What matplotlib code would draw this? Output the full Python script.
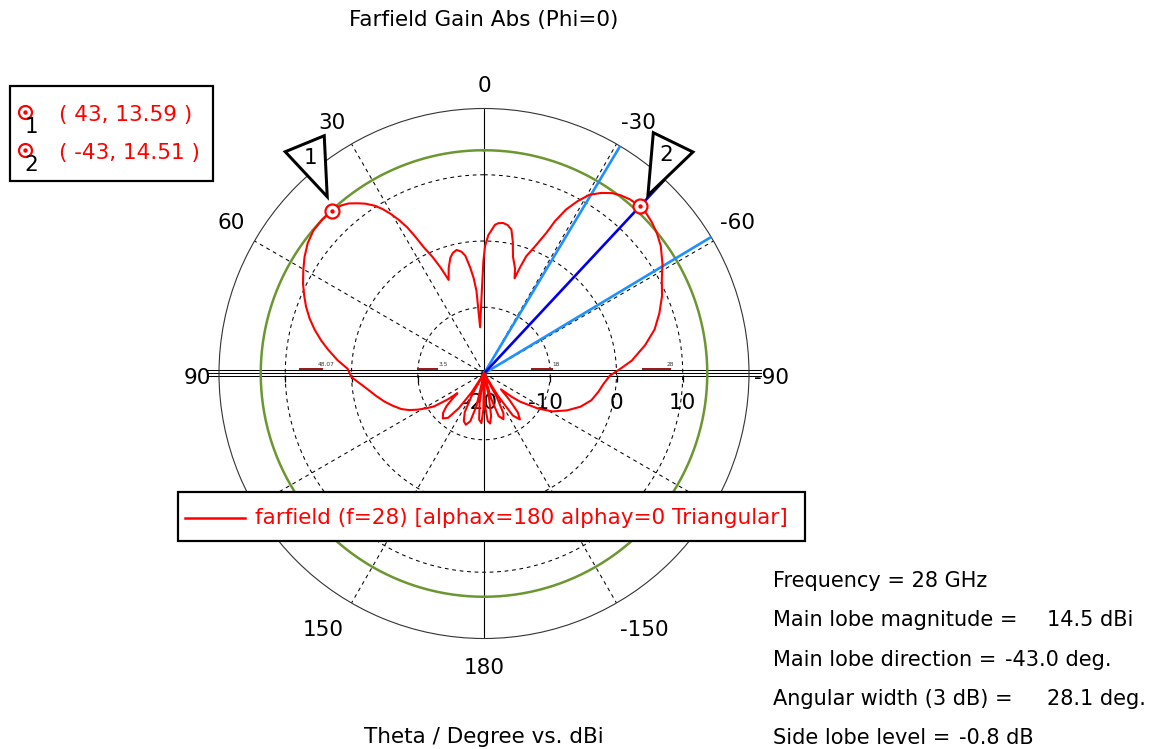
import numpy as np
import matplotlib
matplotlib.use("Agg")
import matplotlib.pyplot as plt
from matplotlib import transforms as mtransforms
from matplotlib.lines import Line2D
from matplotlib.patches import Polygon, Rectangle

plt.rcParams["font.family"] = ["DejaVu Sans"]

# ---------------- data ----------------
theta_deg = [
    -180, -178, -175.5, -173, -170.5, -168, -166,
    -164, -161, -157, -154, -151.5, -150,
    -148, -145.5, -142, -139, -136, -133,
    -130, -128, -123, -119, -114, -109, -104, -99, -95, -91,
    -88, -85, -80, -75.5, -71, -66.5, -62, -58.5, -54.2, -51, -48, -45.5, -43,
    -40, -37.5, -35.4, -33, -30.5, -28.5, -26.6, -25, -23.9, -21.8, -19.8,
    -18.8, -17.8, -16.5, -13.9, -12.3, -10.8, -9, -7.25, -5.5, -4.2, -1.8, -0.45,
    0.3, 1.5, 2.8, 4.8, 5.2, 6.2, 7.4, 9, 10.5, 12.5, 14.5, 16.2, 18.5, 20.7,
    22.3, 23.8, 25.5, 26.6, 27.7, 29, 30.3, 31.7, 33.2, 35, 36.6, 38.5, 40.4,
    43, 46.5, 50, 53.5, 57, 60.3, 63.6, 66.5, 69.4, 72.5, 75.5, 78.5, 81.3,
    84.8, 88, 91.6, 97.8, 101.5, 105.8, 109.5, 113.2, 116, 118.6, 121, 123.4,
    125.6, 126.5,
    128.5, 131, 134, 137.5, 141, 144, 146.5, 148.5,
    150.5, 153.5, 157, 160.5, 164, 167, 169.5,
    171.5, 174, 177, 179, 180,
]
gain_dbi = [
    -20, -15, -12.8, -12.4, -13.5, -16.5, -20,
    -16, -13.2, -12.5, -13.3, -16, -20,
    -16, -12.3, -11.2, -12.2, -14.5, -16.5,
    -14.5, -13.1, -10.3, -8.2, -6.3, -4.6, -3.3, -2.5, -1.9, -1.0,
    0.6, 2.4, 4.7, 6.6, 8.0, 9.3, 10.4, 11.6, 12.9, 13.6, 14.1, 14.4, 14.51,
    14.3, 13.9, 13.4, 12.5, 11.3, 9.6, 7.7, 5.4, 3.2, 0.6, -1.2,
    -3.0, -4.9, -3.5, -1.8, 0.4, 2.1, 2.7, 2.9, 2.8, 2.5, 0.9, -0.8,
    -3.0, -7.5, -10.5, -13.0, -7.5, -5.5, -3.9, -2.0, -1.3, -0.9, -1.2, -1.8, -3.2, -4.9,
    -2.7, -0.8, 1.1, 3.0, 4.9, 6.5, 7.9, 9.2, 10.3, 11.3, 12.0, 12.8, 13.3,
    13.59, 13.71, 13.6, 13.1, 12.3, 11.4, 10.5, 9.6, 8.7, 7.6, 6.4, 5.1, 3.8,
    2.2, 0.6, 0.0, -2.3, -3.3, -4.4, -5.4, -6.4, -7.4, -8.6, -9.8, -11.0,
    -13.3, -15.0,
    -14, -12.5, -11.4, -10.8, -11.4, -13.5, -16.5, -20,
    -16.5, -13.5, -12.2, -11.8, -12.5, -15, -20,
    -15.5, -13, -12.5, -14.5, -20,
]

marker_theta = [43, -43]
marker_gain = [13.59, 14.51]
marker_ids = ["1", "2"]

frequency_ghz = 28
main_lobe_magnitude = 14.5
main_lobe_direction = -43.0
angular_width_3db = 28.1
beam_edges_deg = [-30.9, -59.0]
side_lobe_level = -0.8

angle_ticks = [0, 30, 60, 90, 120, 150, 180, -150, -120, -90, -60, -30]
angle_labels = ["0", "30", "60", "90", "150", "180", "-150", "-90", "-60", "-30"]
radial_ticks = [-20, -10, 0, 10]
r_min, r_max = -20, 20

title_text = "Farfield Gain Abs (Phi=0)"
axis_text = "Theta / Degree vs. dBi"
series_label = "farfield (f=28) [alphax=180 alphay=0 Triangular]"

# ---------------- figure ----------------
W, H, DPI = 1159, 749, 100
FS = 15.5

fig = plt.figure(figsize=(W / DPI, H / DPI), dpi=DPI)
fig.patch.set_facecolor("white")


def fx(x):
    return x / W


def fy(y):
    return 1 - y / H


def px(v):
    return v * 72.0 / DPI


cx, cy, R = 484.0, 373.5, 265.0
PX_PER_DB = R / (r_max - r_min)
ax = fig.add_axes([(cx - R) / W, (H - cy - R) / H, 2 * R / W, 2 * R / H],
                  projection="polar")
ax.set_theta_zero_location("N")
ax.set_theta_direction(1)
ax.set_ylim(r_min, r_max)
ax.set_xticks([])
ax.set_yticks([])
ax.grid(False)
ax.spines["polar"].set_color("#333333")
ax.spines["polar"].set_linewidth(0.8)


def shifted(dx_px, dy_px):
    return ax.transData + mtransforms.ScaledTranslation(
        dx_px / DPI, dy_px / DPI, fig.dpi_scale_trans)


rad = np.deg2rad
ring = np.linspace(0, 2 * np.pi, 721)
dash = (0, (3.6, 3.6))

# dashed dB rings and 30-degree spokes
for v in radial_ticks[1:]:
    ax.plot(ring, np.full_like(ring, v), color="black", lw=0.75, ls=dash, zorder=1)
for a in angle_ticks:
    if a % 90:
        ax.plot([rad(a)] * 2, [r_min, r_max], color="black", lw=0.75, ls=dash, zorder=1)

# solid vertical axis
for a in (0, 180):
    ax.plot([rad(a)] * 2, [r_min, r_max], color="black", lw=0.8, zorder=1.5)

# triple horizontal axis line
for off in (-3, 0, 3):
    for a in (90, -90):
        ax.plot([rad(a)] * 2, [r_min, 21.8], color="black", lw=0.75,
                transform=shifted(0, off), clip_on=False, zorder=1.5)

# small ticks under the horizontal axis
for v in radial_ticks[1:]:
    for a in (90, -90):
        ax.plot([rad(a)], [v], marker="|", ms=px(7), mew=0.9, color="black",
                transform=shifted(0, -5), clip_on=False, zorder=1.5)

# tiny scale marks sitting on the horizontal axis
scale_marks = [(90, 4.45, 7.8, 3.8, "48.07"), (90, -12.9, -10.0, -13.9, "3.5"),
               (-90, -12.75, -9.7, -9.1, "18"), (-90, 4.0, 8.1, 8.1, "28")]
for a, r0, r1, rt, s in scale_marks:
    ax.plot([rad(a)] * 2, [r0, r1], color="#9b1c1c", lw=px(2),
            transform=shifted(0, 4.5), clip_on=False, zorder=1.6)
    ax.text(rad(a), rt, s, fontsize=4.2, color="#333333", ha="center", va="center",
            transform=shifted(0, 9), clip_on=False, zorder=1.6)

# side lobe level circle
ax.plot(ring, np.full_like(ring, main_lobe_magnitude + side_lobe_level),
        color="#6b9630", lw=1.8, zorder=2)

# 3 dB beam edges and main lobe direction
for e in beam_edges_deg:
    ax.plot([rad(e)] * 2, [r_min, r_max], color="#1e90ff", lw=1.9, zorder=3)
ax.plot([rad(main_lobe_direction)] * 2, [r_min, r_max], color="#0000ee", lw=1.9, zorder=3.2)

# radial labels
for v in radial_ticks:
    ax.annotate(str(v), xy=(rad(-90), v), xytext=(-4.5 if v < 0 else 0, -29.5),
                textcoords="offset pixels", ha="center", va="center", fontsize=FS,
                zorder=2.5, annotation_clip=False)

# angle labels (placement: angle, distance from centre in pixels)
label_place = {"0": (0, 290), "30": (31, 295), "60": (58.8, 295), "90": (90.5, 287),
               "150": (147.7, 301), "180": (180, 292), "-150": (-147.8, 301),
               "-90": (-90.5, 288), "-60": (-59, 296), "-30": (-31.4, 296)}
for s in angle_labels:
    a, dist = label_place[s]
    ax.text(rad(a), r_min + dist / PX_PER_DB, s, ha="center", va="center",
            fontsize=FS, clip_on=False, zorder=2.5, transform=shifted(0, -2))

# pattern
ax.plot(rad(np.array(theta_deg)), np.clip(np.array(gain_dbi), r_min, None),
        color="red", lw=1.5, zorder=5, clip_on=False)

# markers
for t, g in zip(marker_theta, marker_gain):
    ax.plot([rad(t)], [g], marker="o", ms=px(14), mfc="white", mec="red",
            mew=px(2.2), zorder=6, clip_on=False)
    ax.plot([rad(t)], [g], marker="o", ms=px(3), color="red", zorder=7, clip_on=False)

# marker flags
flag_shapes = {
    "1": ([(-47, 59), (-8, 75), (-5, 14)], (-22, 53)),
    "2": ([(13.4, 73.6), (53, 54.3), (8, 11)], (26, 51)),
}
ident = mtransforms.IdentityTransform()
for t, g, mid in zip(marker_theta, marker_gain, marker_ids):
    x0, y0 = ax.transData.transform((rad(t), g))
    verts, (lx, ly) = flag_shapes[mid]
    poly = Polygon([(x0 + dx, y0 + dy) for dx, dy in verts], closed=True,
                   fc="white", ec="black", lw=px(3), joinstyle="miter",
                   transform=ident, zorder=3)
    fig.add_artist(poly)
    fig.text(x0 + lx, y0 + ly, mid, transform=ident, ha="center", va="center",
             fontsize=FS, zorder=4)

# marker legend (top left)
fig.add_artist(Rectangle((fx(9.5), fy(181)), (212.5 - 9.5) / W, (181 - 86) / H,
                         transform=fig.transFigure, fc="white", ec="black",
                         lw=px(2.2), zorder=4))
for i, (t, g, mid) in enumerate(zip(marker_theta, marker_gain, marker_ids)):
    yy = 111.7 + 38.3 * i
    fig.add_artist(Line2D([fx(25)], [fy(yy)], marker="o", ms=px(13), mfc="white",
                          mec="red", mew=px(2.2), transform=fig.transFigure, zorder=5))
    fig.add_artist(Line2D([fx(25)], [fy(yy)], marker="o", ms=px(3), color="red",
                          transform=fig.transFigure, zorder=6))
    fig.text(fx(31.5), fy(yy + 15), mid, ha="center", va="center", fontsize=FS, zorder=5)
    fig.text(fx(59), fy(yy + 3), f"( {t}, {g} )", color="red", ha="left",
             va="center", fontsize=FS, zorder=5)

# series legend
fig.add_artist(Rectangle((fx(178), fy(541)), (805 - 178) / W, (541 - 492) / H,
                         transform=fig.transFigure, fc="white", ec="black",
                         lw=px(2.2), zorder=4))
fig.add_artist(Line2D([fx(185), fx(245)], [fy(518), fy(518)], color="red",
                      lw=px(2.5), transform=fig.transFigure, zorder=5))
fig.text(fx(255), fy(518), series_label, color="red", ha="left", va="center",
         fontsize=FS, zorder=5)

# titles
fig.text(fx(484), fy(26), title_text, ha="center", va="baseline", fontsize=FS)
fig.text(fx(484), fy(743), axis_text, ha="center", va="baseline", fontsize=FS)

# results block
FS_INFO = 15
fig.text(fx(773), fy(587), f"Frequency = {frequency_ghz} GHz", ha="left",
         va="baseline", fontsize=FS_INFO)
info_rows = [
    ("Main lobe magnitude =", f"{main_lobe_magnitude:.1f} dBi", 1047, 626),
    ("Main lobe direction =", f"{main_lobe_direction:.1f} deg.", 1003, 666),
    ("Angular width (3 dB) =", f"{angular_width_3db:.1f} deg.", 1047, 705),
    ("Side lobe level =", f"{side_lobe_level:.1f} dB", 940, 744),
]
renderer = fig.canvas.get_renderer()
for label, value, xv, yb in info_rows:
    t = fig.text(fx(773), fy(yb), label, ha="left", va="baseline", fontsize=FS_INFO)
    end_x = t.get_window_extent(renderer).x1
    fig.text(max(xv, end_x + 9) / W, fy(yb), value, ha="left", va="baseline",
             fontsize=FS_INFO)

fig.savefig("out.png", dpi=DPI, facecolor="white")
